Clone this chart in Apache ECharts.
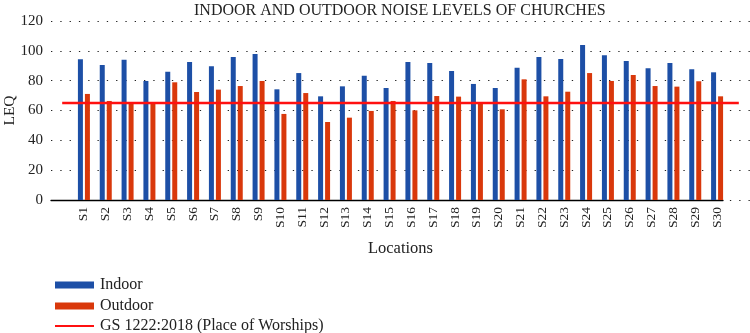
<!DOCTYPE html>
<html lang="en">
<head>
    <meta charset="UTF-8">
    <title>Noise levels of churches</title>
    <script src="https://cdn.jsdelivr.net/npm/echarts@6/dist/echarts.min.js"></script>
    <style>
        body { margin: 0; background: #fff; }
    </style>
</head>
<body>
    <div id="main" style="width: 750px;height:333px;"></div>
    <script>
        // data
        var locations = ['S1','S2','S3','S4','S5','S6','S7','S8','S9','S10',
            'S11','S12','S13','S14','S15','S16','S17','S18','S19','S20',
            'S21','S22','S23','S24','S25','S26','S27','S28','S29','S30'];
        var indoor = [94.3, 90.5, 94.1, 79.8, 86, 92.5, 89.6, 95.9, 97.9, 74.2,
            85.1, 69.5, 76.2, 83.3, 75.1, 92.5, 91.8, 86.5, 77.8, 75.1,
            88.7, 95.9, 94.5, 103.9, 97, 93.2, 88.3, 91.8, 87.6, 85.6];
        var outdoor = [71.1, 66.4, 65.4, 65.4, 78.9, 72.4, 74, 76.4, 79.8, 57.7,
            71.7, 52.3, 55.2, 59.7, 66.4, 60.1, 69.7, 69.3, 65.2, 60.8,
            80.9, 69.5, 72.6, 85.1, 79.8, 83.8, 76.4, 76, 79.6, 69.5];
        var yTicks = [0, 20, 40, 60, 80, 100, 120];
        var standardLimit = 65;           // GS 1222:2018 place of worship
        var limitSpan = [0.016, 0.984];   // share of plot width covered by the limit line
        var lineName = 'GS 1222:2018 (Place of Worships)';

        var font = 'Liberation Serif';
        var myChart = echarts.init(document.getElementById('main'));

        // one legend per row so they stack like the original
        function legendRow(name, top, h) {
            return {
                orient: 'vertical',
                left: 50,
                top: top,
                itemWidth: 39,
                itemHeight: h,
                textStyle: { fontFamily: font, fontSize: 16, color: '#222', padding: [0, 0, 0, 1] },
                data: [{ name: name, icon: 'rect' }]
            };
        }

        function plotGrid(left, right) {
            return { left: left, right: right, top: 21, bottom: 133, containLabel: false, outerBoundsMode: 'none' };
        }

        var option = {
            animation: false,
            textStyle: { fontFamily: font },
            title: {
                text: 'INDOOR AND OUTDOOR NOISE LEVELS OF CHURCHES',
                left: 189,
                top: -2,
                textStyle: { fontFamily: font, fontSize: 16, fontWeight: 'normal', color: '#222' }
            },
            legend: [
                legendRow('Indoor', 272, 7),
                legendRow('Outdoor', 293, 7),
                legendRow(lineName, 313, 2)
            ],
            grid: [
                plotGrid(51, 0),    // y axis + dotted grid lines + limit line
                plotGrid(73, 22),   // bars
                plotGrid(51, 27)    // x axis baseline
            ],
            xAxis: [
                { gridIndex: 0, type: 'value', min: 0, max: 1, show: false },
                {
                    gridIndex: 1,
                    type: 'category',
                    data: locations,
                    name: 'Locations',
                    nameLocation: 'middle',
                    nameGap: 40,
                    nameMoveOverlap: false,
                    nameTextStyle: { fontFamily: font, fontSize: 16.5, color: '#222' },
                    axisLine: { show: false },
                    axisTick: { show: false },
                    axisLabel: { rotate: 90, fontFamily: font, fontSize: 13.5, color: '#222', margin: 7 }
                },
                {
                    gridIndex: 2, type: 'value', min: 0, max: 1,
                    axisLine: { show: true, lineStyle: { color: '#000', width: 1.3 } },
                    axisTick: { show: false }, axisLabel: { show: false }, splitLine: { show: false }
                }
            ],
            yAxis: [
                {
                    gridIndex: 0,
                    type: 'value',
                    min: 0, max: 120, interval: 20,
                    name: 'LEQ',
                    nameLocation: 'middle',
                    nameGap: 33,
                    nameMoveOverlap: false,
                    nameTextStyle: { fontFamily: font, fontSize: 15.5, color: '#222' },
                    axisLine: { show: false },
                    axisTick: { show: false },
                    axisLabel: {
                        fontFamily: font, fontSize: 15, color: '#222', margin: 8,
                        formatter: function (v) { return yTicks.indexOf(v) >= 0 ? v : ''; }
                    },
                    splitLine: { lineStyle: { color: '#222', type: [1.3, 8], width: 1.2 } }
                },
                { gridIndex: 1, type: 'value', min: 0, max: 120, show: false },
                { gridIndex: 2, type: 'value', min: 0, max: 120, show: false }
            ],
            series: [
                {
                    name: 'Indoor',
                    type: 'bar',
                    xAxisIndex: 1, yAxisIndex: 1,
                    data: indoor,
                    barWidth: 5,
                    barGap: '40%',
                    itemStyle: { color: '#1d4fa6' }
                },
                {
                    name: 'Outdoor',
                    type: 'bar',
                    xAxisIndex: 1, yAxisIndex: 1,
                    data: outdoor,
                    barWidth: 5,
                    itemStyle: { color: '#d9380b' }
                },
                {
                    name: lineName,
                    type: 'line',
                    xAxisIndex: 0, yAxisIndex: 0,
                    symbol: 'none',
                    z: 5,
                    data: [[limitSpan[0], standardLimit], [limitSpan[1], standardLimit]],
                    lineStyle: { color: '#ff1010', width: 2.5 },
                    itemStyle: { color: '#ff1010' }
                }
            ]
        };
        myChart.setOption(option);
    </script>
</body>
</html>
